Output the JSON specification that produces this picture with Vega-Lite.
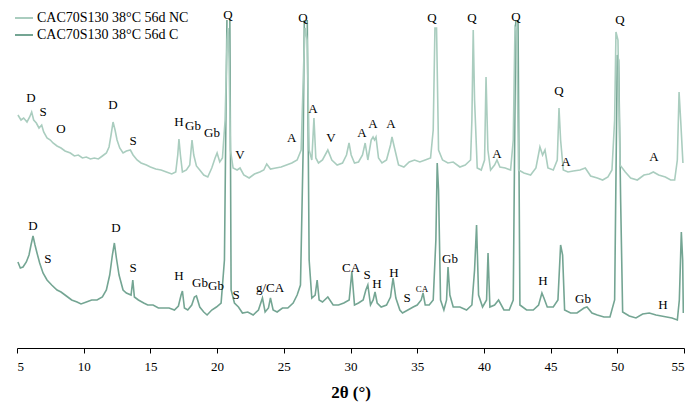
{
  "$schema": "https://vega.github.io/schema/vega-lite/v6.json",
  "autosize": "none",
  "width": 667,
  "height": 328,
  "padding": {"left": 17, "top": 20, "right": 9, "bottom": 58},
  "background": "white",
  "config": {"view": {"stroke": null}, "font": "Liberation Serif"},
  "datasets": {
    "nc": [
      [5.07,233],[5.3,228],[5.5,230],[5.75,226],[5.95,231],[6.1,236],[6.25,228],[6.45,225],[6.65,220],[6.85,223],[7.0,216],[7.25,210],[7.5,208],[7.7,205],[8.0,202],[8.3,200],[8.6,197],[9.0,195],[9.3,192],[9.6,193],[9.9,190],[10.2,191],[10.5,189],[10.8,190],[11.1,189],[11.4,192],[11.7,195],[11.9,201],[12.05,213],[12.2,226],[12.35,218],[12.5,208],[12.7,200],[12.95,195],[13.2,197],[13.5,198],[13.7,193],[14.0,188],[14.3,185],[14.7,183],[15.0,181],[15.4,179],[15.8,178],[16.2,176],[16.6,174],[16.9,176],[17.05,193],[17.14,209],[17.25,193],[17.4,176],[17.7,178],[17.95,183],[18.05,198],[18.12,208],[18.25,193],[18.45,182],[18.7,178],[19.0,173],[19.3,171],[19.6,180],[19.85,190],[20.0,195],[20.2,186],[20.4,190],[20.6,228],[20.75,308],[20.82,320],[20.9,288],[21.0,198],[21.2,180],[21.5,178],[21.72,180],[22.0,173],[22.4,170],[22.8,174],[23.2,176],[23.5,178],[23.72,184],[24.0,179],[24.4,180],[24.8,181],[25.2,183],[25.6,185],[26.0,188],[26.3,198],[26.5,288],[26.6,320],[26.75,308],[26.9,198],[27.1,188],[27.26,230],[27.4,190],[27.6,185],[27.9,188],[28.3,198],[28.6,188],[29.0,183],[29.4,185],[29.7,193],[29.89,205],[30.05,193],[30.3,185],[30.6,186],[30.9,193],[31.1,205],[31.3,188],[31.55,208],[31.69,211],[31.8,208],[31.91,211],[32.1,190],[32.36,185],[32.7,188],[33.0,203],[33.11,211],[33.3,200],[33.6,183],[34.0,181],[34.4,186],[34.8,188],[35.2,186],[35.6,188],[36.0,190],[36.2,218],[36.33,320],[36.45,320],[36.6,198],[36.9,188],[37.3,185],[37.7,186],[38.2,181],[38.6,183],[39.0,188],[39.1,228],[39.2,318],[39.3,248],[39.5,180],[39.8,178],[40.05,188],[40.16,271],[40.3,198],[40.5,178],[40.8,183],[40.98,188],[41.2,181],[41.6,180],[42.0,178],[42.2,208],[42.33,321],[42.45,318],[42.6,178],[43.0,175],[43.5,173],[43.9,180],[44.2,201],[44.4,193],[44.58,198],[44.8,180],[45.2,178],[45.5,188],[45.63,240],[45.75,208],[45.95,178],[46.3,176],[46.7,177],[47.2,178],[47.6,180],[48.0,172],[48.5,170],[48.9,168],[49.3,171],[49.6,178],[49.8,228],[49.9,316],[50.05,308],[50.2,183],[50.6,176],[51.0,170],[51.5,168],[52.0,173],[52.4,174],[52.7,176],[53.1,173],[53.6,171],[54.0,168],[54.3,168],[54.5,188],[54.63,256],[54.75,228],[54.92,185]
    ],
    "c": [
      [5.07,86],[5.25,80],[5.45,81],[5.7,86],[5.9,93],[6.05,103],[6.2,112],[6.35,103],[6.5,95],[6.7,85],[6.95,75],[7.25,68],[7.6,63],[8.0,58],[8.3,56],[8.7,52],[9.1,48],[9.5,46],[9.8,44],[10.2,46],[10.6,48],[11.0,48],[11.4,51],[11.7,58],[11.95,73],[12.15,93],[12.3,105],[12.45,90],[12.65,73],[12.95,58],[13.2,55],[13.55,53],[13.68,68],[13.8,51],[14.1,48],[14.5,45],[14.8,43],[15.2,43],[15.6,40],[16.0,40],[16.4,40],[16.8,38],[17.1,42],[17.3,53],[17.4,57],[17.55,40],[17.8,38],[18.1,43],[18.3,51],[18.45,52],[18.7,41],[19.0,36],[19.25,33],[19.6,38],[19.95,41],[20.3,45],[20.55,88],[20.75,345],[20.95,345],[21.05,58],[21.3,45],[21.6,41],[21.9,35],[22.3,36],[22.7,33],[23.1,38],[23.4,50],[23.6,36],[23.85,40],[24.0,50],[24.2,38],[24.5,36],[24.9,40],[25.3,40],[25.7,45],[26.0,53],[26.25,63],[26.45,198],[26.55,345],[26.75,345],[26.9,88],[27.1,50],[27.35,53],[27.5,68],[27.65,48],[27.9,46],[28.3,51],[28.7,43],[29.1,43],[29.5,45],[29.9,48],[30.1,76],[30.3,43],[30.6,45],[30.95,48],[31.15,58],[31.3,63],[31.5,43],[31.7,48],[31.84,56],[32.0,45],[32.3,41],[32.7,43],[33.0,51],[33.19,70],[33.4,50],[33.7,38],[33.9,35],[34.3,38],[34.7,41],[35.0,43],[35.3,48],[35.44,55],[35.6,43],[35.9,43],[36.2,48],[36.4,108],[36.5,185],[36.6,158],[36.75,48],[37.0,38],[37.2,48],[37.31,81],[37.45,53],[37.7,41],[38.2,41],[38.7,38],[39.1,43],[39.3,78],[39.45,123],[39.6,53],[39.9,41],[40.2,48],[40.31,95],[40.45,41],[40.8,43],[41.1,48],[41.5,38],[41.9,38],[42.2,48],[42.4,345],[42.55,345],[42.7,43],[43.2,38],[43.7,38],[44.1,43],[44.35,55],[44.5,50],[44.75,41],[45.2,41],[45.55,48],[45.75,103],[45.9,93],[46.05,38],[46.5,35],[46.98,35],[47.5,40],[47.73,41],[48.1,35],[48.5,33],[49.0,31],[49.45,31],[49.8,48],[50.0,293],[50.1,288],[50.25,148],[50.4,36],[50.9,32],[51.4,30],[51.9,34],[52.4,35],[52.9,33],[53.3,32],[53.7,31],[54.1,30],[54.5,28],[54.65,48],[54.8,116],[54.9,88],[54.95,35]
    ],
    "labels": [
      {"x":20.82,"y":333,"t":"Q"},{"x":26.44,"y":330,"t":"Q"},{"x":36.11,"y":330,"t":"Q"},{"x":39.11,"y":330,"t":"Q"},{"x":42.4,"y":331,"t":"Q"},{"x":45.63,"y":257,"t":"Q"},{"x":50.2,"y":328,"t":"Q"},
      {"x":6.05,"y":250,"t":"D"},{"x":6.95,"y":236,"t":"S"},{"x":8.3,"y":219,"t":"O"},{"x":12.2,"y":243,"t":"D"},{"x":13.7,"y":207,"t":"S"},{"x":17.14,"y":226,"t":"H"},{"x":18.19,"y":222,"t":"Gb"},{"x":19.62,"y":215,"t":"Gb"},{"x":21.72,"y":193,"t":"V"},{"x":25.6,"y":210,"t":"A"},{"x":27.19,"y":239,"t":"A"},{"x":28.54,"y":210,"t":"V"},{"x":30.86,"y":215,"t":"A"},{"x":31.69,"y":224,"t":"A"},{"x":33.04,"y":224,"t":"A"},{"x":40.98,"y":194,"t":"A"},{"x":46.15,"y":186,"t":"A"},{"x":52.75,"y":191,"t":"A"},
      {"x":6.2,"y":122,"t":"D"},{"x":7.32,"y":89,"t":"S"},{"x":12.42,"y":120,"t":"D"},{"x":13.7,"y":80,"t":"S"},{"x":17.14,"y":72,"t":"H"},{"x":18.72,"y":65,"t":"Gb"},{"x":19.92,"y":62,"t":"Gb"},{"x":21.42,"y":53,"t":"S"},{"x":23.97,"y":60,"t":"g/CA"},{"x":30.04,"y":80,"t":"CA"},{"x":31.24,"y":73,"t":"S"},{"x":31.99,"y":64,"t":"H"},{"x":33.26,"y":75,"t":"H"},{"x":34.24,"y":50,"t":"S"},{"x":37.46,"y":89,"t":"Gb"},{"x":44.43,"y":67,"t":"H"},{"x":47.43,"y":49,"t":"Gb"},{"x":53.43,"y":43,"t":"H"}
    ],
    "smallLabels": [
      {"x":35.36,"y":59,"t":"CA"}
    ]
  },
  "layer": [
    {
      "data": {"name": "c"},
      "transform": [
        {"calculate": "datum[0]", "as": "theta"},
        {"calculate": "datum[1]", "as": "intensity"},
        {"calculate": "'CAC70S130 38°C 56d C'", "as": "series"}
      ],
      "mark": {"type": "line", "strokeWidth": 1.6, "clip": true, "interpolate": "linear"},
      "encoding": {
        "x": {"field": "theta", "type": "quantitative", "scale": {"domain": [5, 55], "nice": false},
          "axis": {"values": [5,10,15,20,25,30,35,40,45,50,55], "grid": false, "domainColor": "#000", "tickColor": "#000", "tickSize": 5, "labelFont": "Liberation Serif", "labelFontSize": 13, "labelColor": "#000", "labelPadding": 7, "title": "2θ (°)", "titleFont": "Liberation Serif", "titleFontSize": 17, "titleFontWeight": "bold", "titleColor": "#000", "titlePadding": 11}},
        "y": {"field": "intensity", "type": "quantitative", "scale": {"domain": [0, 328], "nice": false}, "axis": null},
        "color": {"field": "series", "type": "nominal",
          "scale": {"domain": ["CAC70S130 38°C 56d NC", "CAC70S130 38°C 56d C"], "range": ["#aacdbf", "#74a593"]},
          "legend": {"orient": "none", "legendX": -3, "legendY": -12, "title": null, "symbolType": "stroke", "symbolSize": 324, "symbolStrokeWidth": 2, "labelFont": "Liberation Serif", "labelFontSize": 14, "labelColor": "#000", "labelOffset": 3, "rowPadding": 0}}
      }
    },
    {
      "data": {"name": "nc"},
      "transform": [
        {"calculate": "datum[0]", "as": "theta"},
        {"calculate": "datum[1]", "as": "intensity"},
        {"calculate": "'CAC70S130 38°C 56d NC'", "as": "series"}
      ],
      "mark": {"type": "line", "strokeWidth": 1.6, "clip": true},
      "encoding": {
        "x": {"field": "theta", "type": "quantitative"},
        "y": {"field": "intensity", "type": "quantitative"},
        "color": {"field": "series", "type": "nominal"}
      }
    },
    {
      "data": {"name": "labels"},
      "mark": {"type": "text", "font": "Liberation Serif", "fontSize": 13, "color": "#000", "align": "center", "baseline": "middle"},
      "encoding": {
        "x": {"field": "x", "type": "quantitative"},
        "y": {"field": "y", "type": "quantitative"},
        "text": {"field": "t"}
      }
    },
    {
      "data": {"name": "smallLabels"},
      "mark": {"type": "text", "font": "Liberation Serif", "fontSize": 9, "color": "#000", "align": "center", "baseline": "middle"},
      "encoding": {
        "x": {"field": "x", "type": "quantitative"},
        "y": {"field": "y", "type": "quantitative"},
        "text": {"field": "t"}
      }
    }
  ]
}
